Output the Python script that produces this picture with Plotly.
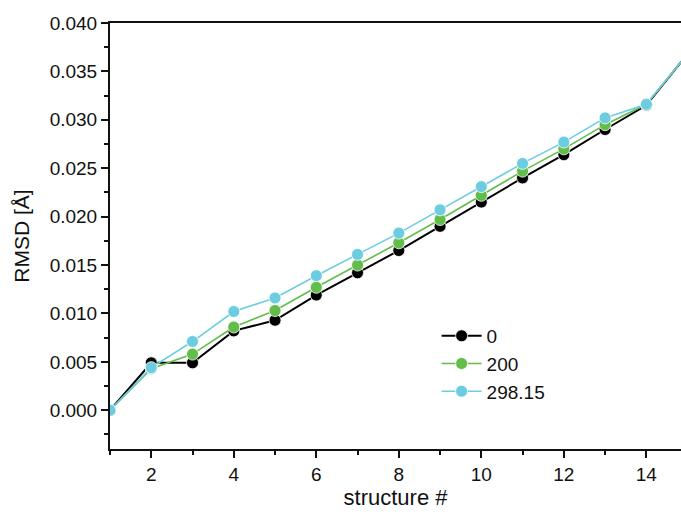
import plotly.graph_objects as go

structure = list(range(1, 16))
rmsd_0 = [0.0, 0.0049, 0.0049, 0.0082, 0.0093, 0.0119, 0.0142, 0.0165, 0.0190, 0.0215, 0.0240, 0.0264, 0.0290, 0.0315, 0.0368]
rmsd_200 = [0.0, 0.0043, 0.0058, 0.0086, 0.0103, 0.0127, 0.0150, 0.0173, 0.0197, 0.0222, 0.0247, 0.0270, 0.0295, 0.0316, 0.0368]
rmsd_298 = [0.0, 0.0044, 0.0071, 0.0102, 0.0116, 0.0139, 0.0161, 0.0183, 0.0207, 0.0231, 0.0255, 0.0277, 0.0302, 0.0316, 0.0368]
names = ["0", "200", "298.15"]
colors = ["#000000", "#62bd4a", "#6ccde0"]
widths = [2, 1.6, 1.6]

fig = go.Figure()
for ys, nm, c, w in zip([rmsd_0, rmsd_200, rmsd_298], names, colors, widths):
    fig.add_trace(go.Scatter(
        x=structure, y=ys, name=nm, mode="lines+markers",
        line=dict(color=c, width=w),
        marker=dict(color=c, size=12, line=dict(color="white", width=0.8)),
        cliponaxis=True,
    ))

font = "Liberation Sans, Arial, sans-serif"
fig.update_layout(
    width=681, height=515,
    margin=dict(l=110, r=0, t=23, b=66),
    paper_bgcolor="white", plot_bgcolor="white",
    font=dict(family=font, size=18, color="#111"),
    showlegend=True,
    legend=dict(x=0.572, y=0.31, xanchor="left", yanchor="top",
                bgcolor="rgba(0,0,0,0)", font=dict(size=19),
                tracegroupgap=0, itemwidth=40),
    xaxis=dict(
        range=[1, 14.84], showgrid=False, zeroline=False,
        showline=True, linecolor="#111", linewidth=2, mirror=True,
        ticks="outside", ticklen=7, tickwidth=2, tickcolor="#111",
        tickvals=[2, 4, 6, 8, 10, 12, 14],
        minor=dict(tickvals=[1, 3, 5, 7, 9, 11, 13], ticks="outside", ticklen=4, tickwidth=2, tickcolor="#111"),
        title=dict(text="structure #", font=dict(size=22), standoff=4),
        tickfont=dict(size=19),
    ),
    yaxis=dict(
        range=[-0.004, 0.040], showgrid=False, zeroline=False,
        showline=True, linecolor="#111", linewidth=2, mirror=False,
        ticks="outside", ticklen=7, tickwidth=2, tickcolor="#111",
        tickvals=[0.0, 0.005, 0.010, 0.015, 0.020, 0.025, 0.030, 0.035, 0.040],
        tickformat=".3f",
        minor=dict(tickvals=[-0.0025, 0.0025, 0.0075, 0.0125, 0.0175, 0.0225, 0.0275, 0.0325, 0.0375],
                   ticks="outside", ticklen=4, tickwidth=2, tickcolor="#111"),
        title=dict(text="RMSD [Å]", font=dict(size=21), standoff=14),
        tickfont=dict(size=19),
    ),
)

fig.write_html("out.html")
